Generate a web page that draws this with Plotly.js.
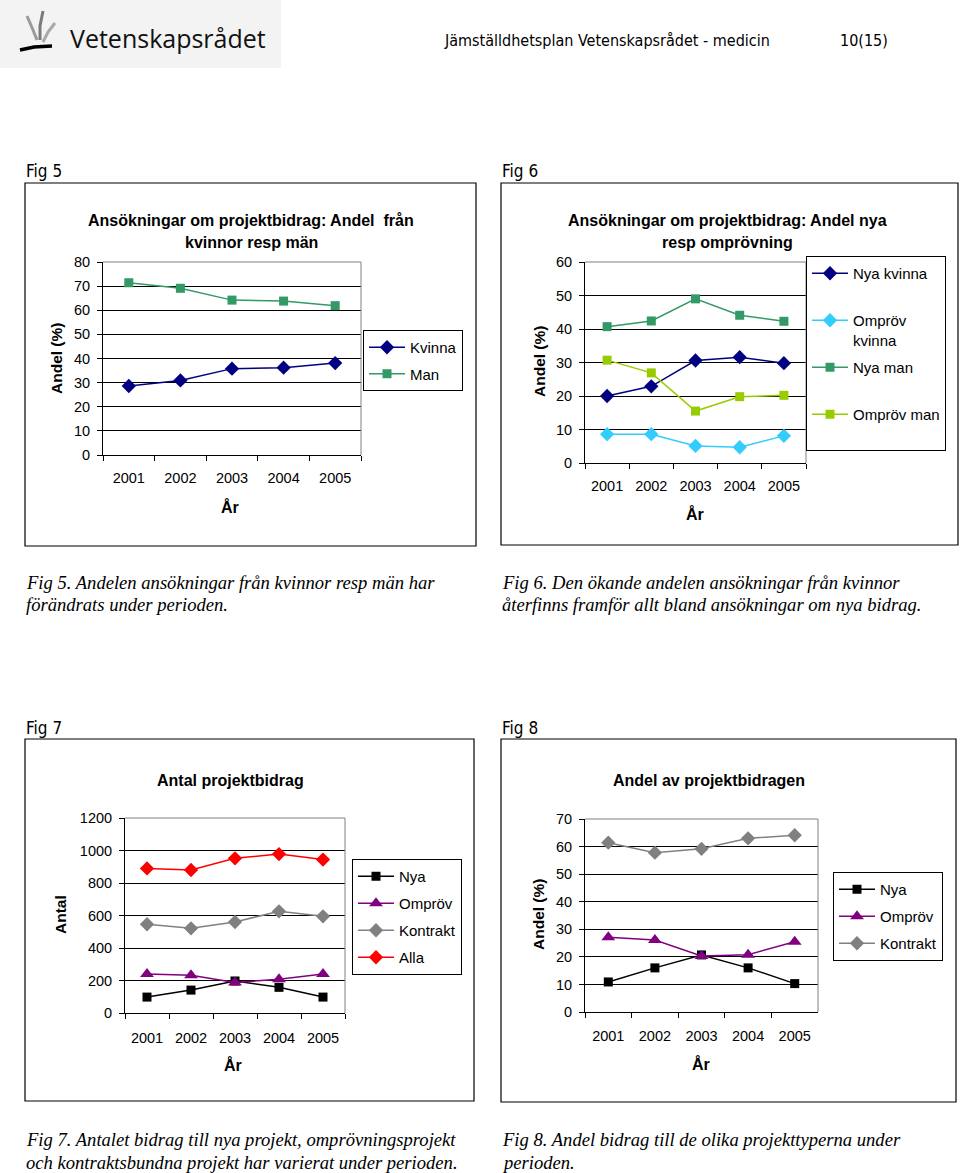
<!DOCTYPE html>
<html>
<head>
<meta charset="utf-8">
<script src="https://cdn.plot.ly/plotly-3.0.1.min.js"></script>
<style>
  html, body { margin: 0; padding: 0; background: #ffffff; }
  #page { width: 960px; height: 1173px; }
</style>
</head>
<body>
<div id="page"></div>
<script>
// ---------------- DATA ----------------
const years = ['2001', '2002', '2003', '2004', '2005'];

// Fig 5: Andel från kvinnor resp män (%)
const fig5Kvinna = [28.6, 30.9, 35.8, 36.2, 38.1];
const fig5Man    = [71.4, 69.1, 64.2, 63.8, 61.9];

// Fig 6: Andel nya resp omprövning (%)
const fig6NyaKvinna    = [20.0, 22.9, 30.6, 31.6, 29.8];
const fig6OmprovKvinna = [8.6, 8.6, 5.1, 4.7, 8.1];
const fig6NyaMan       = [40.7, 42.4, 49.0, 44.1, 42.3];
const fig6OmprovMan    = [30.7, 26.9, 15.5, 19.8, 20.2];

// Fig 7: Antal projektbidrag
const fig7Nya      = [98, 141, 197, 158, 98];
const fig7Omprov   = [240, 232, 188, 207, 240];
const fig7Kontrakt = [546, 521, 560, 626, 595];
const fig7Alla     = [890, 880, 952, 978, 944];

// Fig 8: Andel av projektbidragen (%)
const fig8Nya      = [10.9, 16.0, 20.7, 16.0, 10.3];
const fig8Omprov   = [27.1, 26.1, 20.3, 20.8, 25.5];
const fig8Kontrakt = [61.4, 57.8, 59.2, 63.0, 64.1];

// Texts
const fig5Title = ['Ansökningar om projektbidrag: Andel\u00a0 från', 'kvinnor resp män'];
const fig6Title = ['Ansökningar om projektbidrag: Andel nya', 'resp omprövning'];
const fig7Title = 'Antal projektbidrag';
const fig8Title = 'Andel av projektbidragen';

// ---------------- HELPERS ----------------
const W = 960, H = 1173;
const PX = p => p / W;
const PY = p => 1 - p / H;
const SANS = 'Liberation Sans, Arial, sans-serif';
const SERIF = 'Liberation Serif, Times New Roman, serif';
const COND = 'Liberation Sans Narrow, DejaVu Sans Condensed, sans-serif';
const BLANKLINE = '<br>\u00a0';

function tr(x, y, name, color, symbol, size, axis, legend) {
  return {
    type: 'scatter', mode: 'lines+markers', x: x, y: y, name: name,
    xaxis: 'x' + axis, yaxis: 'y' + axis, legend: legend, legendgroup: name + legend,
    line: { color: color, width: 1.5 },
    marker: { color: color, symbol: symbol, size: size },
    cliponaxis: false, hoverinfo: 'x+y+name'
  };
}

const data = [
  tr(years, fig5Kvinna, 'Kvinna', '#000080', 'diamond', 11, '', 'legend'),
  tr(years, fig5Man, 'Man', '#339966', 'square', 9, '', 'legend'),

  tr(years, fig6NyaKvinna, 'Nya kvinna' + BLANKLINE, '#000080', 'diamond', 11, '2', 'legend2'),
  tr(years, fig6OmprovKvinna, 'Ompröv<br>kvinna', '#33CCFF', 'diamond', 11, '2', 'legend2'),
  tr(years, fig6NyaMan, 'Nya man' + BLANKLINE, '#339966', 'square', 9, '2', 'legend2'),
  tr(years, fig6OmprovMan, 'Ompröv man' + BLANKLINE, '#99CC00', 'square', 9, '2', 'legend2'),

  tr(years, fig7Nya, 'Nya', '#000000', 'square', 9, '3', 'legend3'),
  tr(years, fig7Omprov, 'Ompröv', '#800080', 'triangle-up', 12, '3', 'legend3'),
  tr(years, fig7Kontrakt, 'Kontrakt', '#808080', 'diamond', 11, '3', 'legend3'),
  tr(years, fig7Alla, 'Alla', '#FF0000', 'diamond', 11, '3', 'legend3'),

  tr(years, fig8Nya, 'Nya', '#000000', 'square', 9, '4', 'legend4'),
  tr(years, fig8Omprov, 'Ompröv', '#800080', 'triangle-up', 12, '4', 'legend4'),
  tr(years, fig8Kontrakt, 'Kontrakt', '#808080', 'diamond', 11, '4', 'legend4')
];

function xax(l, r, anchor, standoff) {
  return {
    type: 'category', domain: [PX(l), PX(r)], anchor: anchor, range: [-0.5, 4.5],
    tickson: 'boundaries', ticks: 'outside', ticklen: 5, tickcolor: '#000', tickwidth: 1,
    showline: true, linecolor: '#000', linewidth: 1, showgrid: false, zeroline: false,
    tickfont: { family: SANS, size: 14.5, color: '#000' }, ticklabelstandoff: standoff,
    fixedrange: true
  };
}
function yax(top, bottom, anchor, max, dtick) {
  return {
    domain: [PY(bottom), PY(top)], anchor: anchor, range: [0, max], dtick: dtick, tick0: 0,
    ticks: 'outside', ticklen: 5, tickcolor: '#000', tickwidth: 1,
    showline: true, linecolor: '#000', linewidth: 1,
    showgrid: true, gridcolor: '#000', gridwidth: 1, zeroline: false,
    tickfont: { family: SANS, size: 14.5, color: '#000' }, ticklabelstandoff: 4,
    fixedrange: true
  };
}
function leg(left, top, gap) {
  return {
    x: PX(left), y: PY(top), xanchor: 'left', yanchor: 'top',
    bgcolor: '#fff', bordercolor: '#000', borderwidth: 1,
    font: { family: SANS, size: 15, color: '#000' },
    traceorder: 'grouped', tracegroupgap: gap, itemwidth: 36, valign: 'top',
    itemclick: false, itemdoubleclick: false
  };
}
function ann(x, y, text, size, opts) {
  return Object.assign({
    x: PX(x), y: PY(y), xref: 'paper', yref: 'paper', text: text, showarrow: false,
    xanchor: 'center', yanchor: 'middle',
    font: { family: SANS, size: size, color: '#000' }
  }, opts || {});
}
function rect(x0, y0, x1, y1, color, fill, width) {
  return {
    type: 'rect', xref: 'paper', yref: 'paper', x0: PX(x0), x1: PX(x1), y0: PY(y0), y1: PY(y1),
    line: { color: color, width: width === undefined ? 1 : width }, fillcolor: fill || 'rgba(0,0,0,0)', layer: 'below'
  };
}
function plotEdges(ax) {
  const xr = 'x' + ax + ' domain', yr = 'y' + ax + ' domain';
  return [
    { type: 'line', xref: xr, yref: yr, x0: 0, x1: 1, y0: 1, y1: 1, line: { color: '#808080', width: 1 }, layer: 'above' },
    { type: 'line', xref: xr, yref: yr, x0: 1, x1: 1, y0: 0, y1: 1, line: { color: '#808080', width: 1 }, layer: 'above' }
  ];
}

const bold = (t) => '<b>' + t + '</b>';
const capFont = { family: SERIF, size: 18.6, color: '#000', style: 'italic' };
const condFont = (s) => ({ family: COND, size: s, color: '#000' });
const left = { xanchor: 'left' };

const annotations = [
  // header
  ann(68, 38, 'Vetenskapsrådet', 25, Object.assign({ font: { family: 'Open Sans, sans-serif', size: 25, color: '#111', weight: 500 } }, left)),
  ann(442, 41, 'Jämställdhetsplan Vetenskapsrådet - medicin', 16, Object.assign({ font: condFont(16) }, left)),
  ann(838, 41, '10(15)', 16, Object.assign({ font: condFont(16) }, left)),
  // figure labels
  ann(24, 171, 'Fig 5', 17, Object.assign({ font: condFont(17) }, left)),
  ann(500, 171, 'Fig 6', 17, Object.assign({ font: condFont(17) }, left)),
  ann(24, 728, 'Fig 7', 17, Object.assign({ font: condFont(17) }, left)),
  ann(500, 728, 'Fig 8', 17, Object.assign({ font: condFont(17) }, left)),
  // chart titles
  ann(251, 221, bold(fig5Title[0]), 16),
  ann(251, 242, bold(fig5Title[1]), 16),
  ann(727, 221, bold(fig6Title[0]), 16),
  ann(727, 242, bold(fig6Title[1]), 16),
  ann(230, 780, bold(fig7Title), 16),
  ann(709, 780, bold(fig8Title), 16),
  // y titles
  ann(57, 359, bold('Andel (%)'), 15.5, { textangle: -90 }),
  ann(539, 362, bold('Andel (%)'), 15.5, { textangle: -90 }),
  ann(60, 915, bold('Antal'), 15.5, { textangle: -90 }),
  ann(538, 915, bold('Andel (%)'), 15.5, { textangle: -90 }),
  // x titles
  ann(230, 507, bold('År'), 16),
  ann(695, 514, bold('År'), 16),
  ann(233, 1065, bold('År'), 16),
  ann(701, 1064, bold('År'), 16),
  // captions
  ann(24, 582, 'Fig 5. Andelen ansökningar från kvinnor resp män har', 18, Object.assign({ font: capFont }, left)),
  ann(24, 604, 'förändrats under perioden.', 18, Object.assign({ font: capFont }, left)),
  ann(500, 582, 'Fig 6. Den ökande andelen ansökningar från kvinnor', 18, Object.assign({ font: capFont }, left)),
  ann(500, 604, 'återfinns framför allt bland ansökningar om nya bidrag.', 18, Object.assign({ font: capFont }, left)),
  ann(24, 1139, 'Fig 7. Antalet bidrag till nya projekt, omprövningsprojekt', 18, Object.assign({ font: capFont }, left)),
  ann(24, 1162, 'och kontraktsbundna projekt har varierat under perioden.', 18, Object.assign({ font: capFont }, left)),
  ann(500, 1139, 'Fig 8. Andel bidrag till de olika projekttyperna under', 18, Object.assign({ font: capFont }, left)),
  ann(500, 1162, 'perioden.', 18, Object.assign({ font: capFont }, left))
];

function pathShape(d, color, width) {
  return { type: 'path', xref: 'paper', yref: 'paper', path: d, line: { color: color, width: width }, layer: 'above' };
}
function P(pts) {
  return pts.map((p, i) => (i ? 'L' : 'M') + PX(p[0]).toFixed(5) + ',' + PY(p[1]).toFixed(5)).join(' ');
}

const shapes = [
  rect(0, 0, 281, 68, 'rgba(0,0,0,0)', '#f3f3f3', 0),
  // logo strokes
  pathShape(P([[37, 40], [33, 30], [27, 16]]), '#9a9a9a', 3),
  pathShape(P([[40, 40], [40, 26], [43, 11]]), '#7a7a7a', 3),
  pathShape(P([[43, 42], [48, 32], [55, 23]]), '#a8a8a8', 3),
  pathShape(P([[20, 50], [34, 47], [52, 46]]), '#000000', 3.5),
  // chart frames
  rect(25, 183, 476, 546, '#000', '#fff', 1.2),
  rect(501, 183, 958, 545, '#000', '#fff', 1.2),
  rect(25, 739, 474, 1101, '#000', '#fff', 1.2),
  rect(501, 739, 956, 1102, '#000', '#fff', 1.2)
].concat(plotEdges(''), plotEdges('2'), plotEdges('3'), plotEdges('4'));

const layout = {
  width: W, height: H, margin: { l: 0, r: 0, t: 0, b: 0 },
  paper_bgcolor: '#ffffff', plot_bgcolor: '#c0c0c0',
  showlegend: true, hovermode: 'closest',
  xaxis:  xax(103, 361, 'y', 10),
  yaxis:  yax(262, 455, 'x', 80, 10),
  xaxis2: xax(585, 806, 'y2', 10),
  yaxis2: yax(262, 463, 'x2', 60, 10),
  xaxis3: xax(125, 345, 'y3', 12),
  yaxis3: yax(818, 1013, 'x3', 1200, 200),
  xaxis4: xax(585, 818, 'y4', 11),
  yaxis4: yax(819, 1012, 'x4', 70, 10),
  legend:  leg(363, 330, 4),
  legend2: leg(806, 256, 5),
  legend3: leg(352, 859, 4.5),
  legend4: leg(833, 872, 4.5),
  annotations: annotations,
  shapes: shapes
};

Plotly.newPlot('page', data, layout, { displayModeBar: false, responsive: false });
</script>
</body>
</html>
